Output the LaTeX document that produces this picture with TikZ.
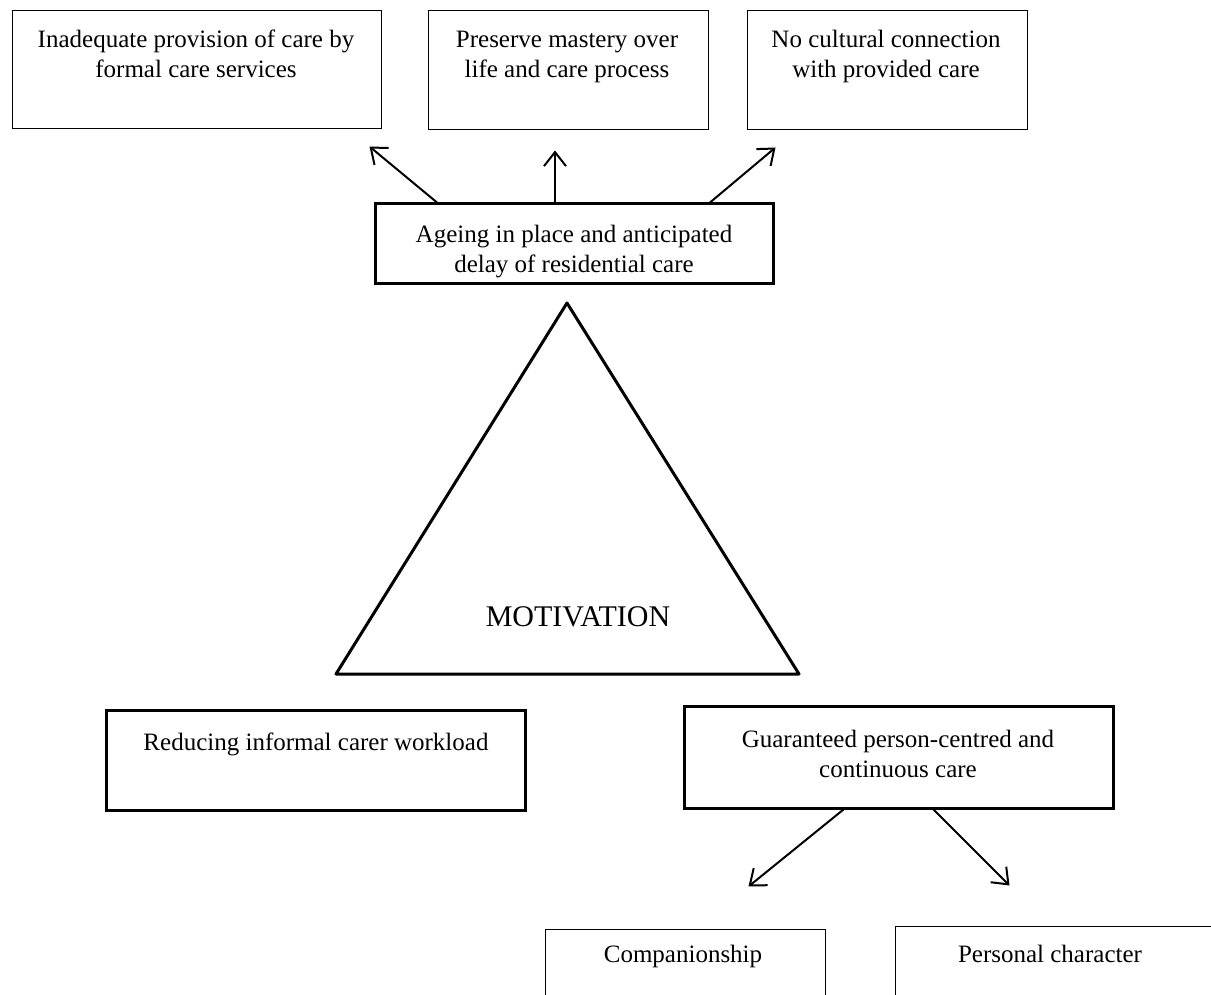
\documentclass[tikz,border=0pt]{standalone}
\usepackage{fontspec}
\setmainfont{Liberation Serif}
\usetikzlibrary{arrows.meta,fit}

\tikzset{
  thinbox/.style={draw, line width=1pt, inner sep=0pt},
  thickbox/.style={draw, line width=3pt, inner sep=0pt},
  boxtext/.style={align=center, anchor=base, inner sep=0pt,
    font=\fontsize{25}{30}\selectfont},
  arr/.style={line width=2pt, -{Straight Barb[length=14pt,width=22pt]}}
}

\begin{document}
\begin{tikzpicture}[x=1pt,y=-1pt]
  \useasboundingbox (0,0) rectangle (1211,995);
  \clip (0,0) rectangle (1211,995);

  % outcome boxes along the top (text anchors sit on the last line's baseline)
  \node[thinbox, fit={(12,11) (381,129)}] (inadequate) {};
  \node[thinbox, fit={(428,11) (708,130)}] (mastery) {};
  \node[thinbox, fit={(747,11) (1027,130)}] (cultural) {};
  \node[boxtext] at (196,78) {Inadequate provision of care by\\formal care services};
  \node[boxtext] at (567,78) {Preserve mastery over\\life and care process};
  \node[boxtext] at (886,78) {No cultural connection\\with provided care};

  % central aim
  \node[thickbox, fit={(375,204) (773,284)}] (ageing) {};
  \node[boxtext] at (574,273) {Ageing in place and anticipated\\delay of residential care};

  \draw[arr] ([xshift=-137pt]ageing.north) -- ([xshift=-12pt,yshift=-17pt]inadequate.south east);
  \draw[arr] ([xshift=-19pt]ageing.north) -- ([xshift=-13pt,yshift=-20pt]mastery.south);
  \draw[arr] ([xshift=136pt]ageing.north) -- ([xshift=29pt,yshift=-17pt]cultural.south west);

  % motivation triangle
  \draw[line width=3pt, line join=round] (567,303) -- (799,674) -- (336,674) -- cycle;
  \node[anchor=base, inner sep=0pt, font=\fontsize{30}{36}\selectfont] (motivation) at (578,626) {MOTIVATION};

  % lower boxes
  \node[thickbox, fit={(106,710) (525,810)}] (reducing) {};
  \node[boxtext] at (316,750) {Reducing informal carer workload};
  \node[thickbox, fit={(684,706) (1113,808)}] (guaranteed) {};
  \node[boxtext] at (898,777) {Guaranteed person-centred and\\continuous care};

  \node[thinbox, fit={(545,929) (825,1010)}] (companionship) {};
  \node[boxtext] at (683,962) {Companionship};
  \node[thinbox, fit={(895,926) (1240,1010)}] (personal) {};
  \node[boxtext] at (1050,962) {Personal character};

  \draw[arr] ([xshift=-55pt]guaranteed.south) -- ([xshift=-77pt,yshift=42pt]companionship.north east);
  \draw[arr] ([xshift=35pt]guaranteed.south) -- ([xshift=115pt,yshift=40pt]personal.north west);
\end{tikzpicture}
\end{document}
